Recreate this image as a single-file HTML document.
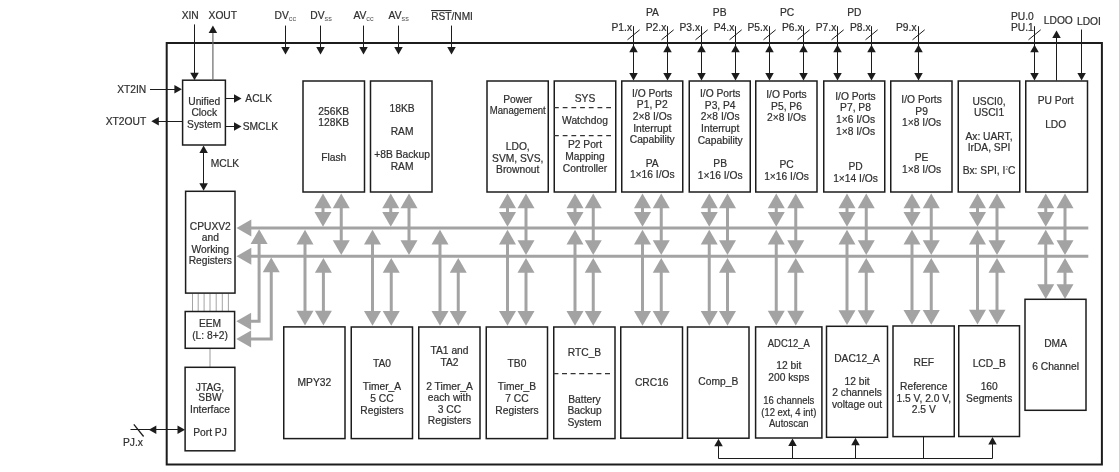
<!DOCTYPE html>
<html><head><meta charset="utf-8"><style>
html,body{margin:0;padding:0;background:#fff;}
body{width:1119px;height:472px;overflow:hidden;font-family:"Liberation Sans",sans-serif;}
svg{display:block;will-change:transform;}
</style></head><body>
<svg width="1119" height="472" viewBox="0 0 1119 472">
<g font-family="Liberation Sans, sans-serif" fill="#2b2b2b">
<style>text{stroke:#3a3a3a;stroke-width:0.22px;}</style>
<rect x="166.7" y="43" width="935.20" height="421.50" fill="#fff" stroke="#1c1c1c" stroke-width="2"/>
<line x1="250" y1="228.0" x2="1088.3" y2="228.0" stroke="#a3a3a3" stroke-width="3.1"/>
<line x1="250" y1="256.2" x2="1088.3" y2="256.2" stroke="#a3a3a3" stroke-width="3.1"/>
<polygon points="236.50,228.00 251.30,219.50 251.30,236.50" fill="#a3a3a3"/>
<polygon points="236.50,256.20 251.30,247.70 251.30,264.70" fill="#a3a3a3"/>
<line x1="323" y1="198.4" x2="323" y2="223.45" stroke="#a3a3a3" stroke-width="3"/>
<polygon points="323.00,193.40 314.50,208.20 331.50,208.20" fill="#a3a3a3"/>
<polygon points="323.00,226.75 314.50,211.95 331.50,211.95" fill="#a3a3a3"/>
<line x1="341.25" y1="198.4" x2="341.25" y2="251.64999999999998" stroke="#a3a3a3" stroke-width="3"/>
<polygon points="341.25,193.40 332.75,208.20 349.75,208.20" fill="#a3a3a3"/>
<polygon points="341.25,254.95 332.75,240.15 349.75,240.15" fill="#a3a3a3"/>
<line x1="390.75" y1="198.4" x2="390.75" y2="223.45" stroke="#a3a3a3" stroke-width="3"/>
<polygon points="390.75,193.40 382.25,208.20 399.25,208.20" fill="#a3a3a3"/>
<polygon points="390.75,226.75 382.25,211.95 399.25,211.95" fill="#a3a3a3"/>
<line x1="409" y1="198.4" x2="409" y2="251.64999999999998" stroke="#a3a3a3" stroke-width="3"/>
<polygon points="409.00,193.40 400.50,208.20 417.50,208.20" fill="#a3a3a3"/>
<polygon points="409.00,254.95 400.50,240.15 417.50,240.15" fill="#a3a3a3"/>
<line x1="507.5" y1="198.4" x2="507.5" y2="223.45" stroke="#a3a3a3" stroke-width="3"/>
<polygon points="507.50,193.40 499.00,208.20 516.00,208.20" fill="#a3a3a3"/>
<polygon points="507.50,226.75 499.00,211.95 516.00,211.95" fill="#a3a3a3"/>
<line x1="526" y1="198.4" x2="526" y2="251.64999999999998" stroke="#a3a3a3" stroke-width="3"/>
<polygon points="526.00,193.40 517.50,208.20 534.50,208.20" fill="#a3a3a3"/>
<polygon points="526.00,254.95 517.50,240.15 534.50,240.15" fill="#a3a3a3"/>
<line x1="575" y1="198.4" x2="575" y2="223.45" stroke="#a3a3a3" stroke-width="3"/>
<polygon points="575.00,193.40 566.50,208.20 583.50,208.20" fill="#a3a3a3"/>
<polygon points="575.00,226.75 566.50,211.95 583.50,211.95" fill="#a3a3a3"/>
<line x1="593.25" y1="198.4" x2="593.25" y2="251.64999999999998" stroke="#a3a3a3" stroke-width="3"/>
<polygon points="593.25,193.40 584.75,208.20 601.75,208.20" fill="#a3a3a3"/>
<polygon points="593.25,254.95 584.75,240.15 601.75,240.15" fill="#a3a3a3"/>
<line x1="642.5" y1="198.4" x2="642.5" y2="223.45" stroke="#a3a3a3" stroke-width="3"/>
<polygon points="642.50,193.40 634.00,208.20 651.00,208.20" fill="#a3a3a3"/>
<polygon points="642.50,226.75 634.00,211.95 651.00,211.95" fill="#a3a3a3"/>
<line x1="661.25" y1="198.4" x2="661.25" y2="251.64999999999998" stroke="#a3a3a3" stroke-width="3"/>
<polygon points="661.25,193.40 652.75,208.20 669.75,208.20" fill="#a3a3a3"/>
<polygon points="661.25,254.95 652.75,240.15 669.75,240.15" fill="#a3a3a3"/>
<line x1="709.25" y1="198.4" x2="709.25" y2="223.45" stroke="#a3a3a3" stroke-width="3"/>
<polygon points="709.25,193.40 700.75,208.20 717.75,208.20" fill="#a3a3a3"/>
<polygon points="709.25,226.75 700.75,211.95 717.75,211.95" fill="#a3a3a3"/>
<line x1="727.5" y1="198.4" x2="727.5" y2="251.64999999999998" stroke="#a3a3a3" stroke-width="3"/>
<polygon points="727.50,193.40 719.00,208.20 736.00,208.20" fill="#a3a3a3"/>
<polygon points="727.50,254.95 719.00,240.15 736.00,240.15" fill="#a3a3a3"/>
<line x1="776.25" y1="198.4" x2="776.25" y2="223.45" stroke="#a3a3a3" stroke-width="3"/>
<polygon points="776.25,193.40 767.75,208.20 784.75,208.20" fill="#a3a3a3"/>
<polygon points="776.25,226.75 767.75,211.95 784.75,211.95" fill="#a3a3a3"/>
<line x1="795.75" y1="198.4" x2="795.75" y2="251.64999999999998" stroke="#a3a3a3" stroke-width="3"/>
<polygon points="795.75,193.40 787.25,208.20 804.25,208.20" fill="#a3a3a3"/>
<polygon points="795.75,254.95 787.25,240.15 804.25,240.15" fill="#a3a3a3"/>
<line x1="847" y1="198.4" x2="847" y2="223.45" stroke="#a3a3a3" stroke-width="3"/>
<polygon points="847.00,193.40 838.50,208.20 855.50,208.20" fill="#a3a3a3"/>
<polygon points="847.00,226.75 838.50,211.95 855.50,211.95" fill="#a3a3a3"/>
<line x1="866.25" y1="198.4" x2="866.25" y2="251.64999999999998" stroke="#a3a3a3" stroke-width="3"/>
<polygon points="866.25,193.40 857.75,208.20 874.75,208.20" fill="#a3a3a3"/>
<polygon points="866.25,254.95 857.75,240.15 874.75,240.15" fill="#a3a3a3"/>
<line x1="912" y1="198.4" x2="912" y2="223.45" stroke="#a3a3a3" stroke-width="3"/>
<polygon points="912.00,193.40 903.50,208.20 920.50,208.20" fill="#a3a3a3"/>
<polygon points="912.00,226.75 903.50,211.95 920.50,211.95" fill="#a3a3a3"/>
<line x1="931.25" y1="198.4" x2="931.25" y2="251.64999999999998" stroke="#a3a3a3" stroke-width="3"/>
<polygon points="931.25,193.40 922.75,208.20 939.75,208.20" fill="#a3a3a3"/>
<polygon points="931.25,254.95 922.75,240.15 939.75,240.15" fill="#a3a3a3"/>
<line x1="977.5" y1="198.4" x2="977.5" y2="223.45" stroke="#a3a3a3" stroke-width="3"/>
<polygon points="977.50,193.40 969.00,208.20 986.00,208.20" fill="#a3a3a3"/>
<polygon points="977.50,226.75 969.00,211.95 986.00,211.95" fill="#a3a3a3"/>
<line x1="997" y1="198.4" x2="997" y2="251.64999999999998" stroke="#a3a3a3" stroke-width="3"/>
<polygon points="997.00,193.40 988.50,208.20 1005.50,208.20" fill="#a3a3a3"/>
<polygon points="997.00,254.95 988.50,240.15 1005.50,240.15" fill="#a3a3a3"/>
<line x1="1045.75" y1="198.4" x2="1045.75" y2="223.45" stroke="#a3a3a3" stroke-width="3"/>
<polygon points="1045.75,193.40 1037.25,208.20 1054.25,208.20" fill="#a3a3a3"/>
<polygon points="1045.75,226.75 1037.25,211.95 1054.25,211.95" fill="#a3a3a3"/>
<line x1="1065" y1="198.4" x2="1065" y2="251.64999999999998" stroke="#a3a3a3" stroke-width="3"/>
<polygon points="1065.00,193.40 1056.50,208.20 1073.50,208.20" fill="#a3a3a3"/>
<polygon points="1065.00,254.95 1056.50,240.15 1073.50,240.15" fill="#a3a3a3"/>
<line x1="305" y1="234.55" x2="305" y2="320.59999999999997" stroke="#a3a3a3" stroke-width="3"/>
<polygon points="305.00,229.75 296.50,244.55 313.50,244.55" fill="#a3a3a3"/>
<polygon points="305.00,325.60 296.50,310.80 313.50,310.80" fill="#a3a3a3"/>
<line x1="323.4" y1="262.75" x2="323.4" y2="320.59999999999997" stroke="#a3a3a3" stroke-width="3"/>
<polygon points="323.40,257.95 314.90,272.75 331.90,272.75" fill="#a3a3a3"/>
<polygon points="323.40,325.60 314.90,310.80 331.90,310.80" fill="#a3a3a3"/>
<line x1="372.5" y1="234.55" x2="372.5" y2="320.7" stroke="#a3a3a3" stroke-width="3"/>
<polygon points="372.50,229.75 364.00,244.55 381.00,244.55" fill="#a3a3a3"/>
<polygon points="372.50,325.70 364.00,310.90 381.00,310.90" fill="#a3a3a3"/>
<line x1="391.25" y1="262.75" x2="391.25" y2="320.7" stroke="#a3a3a3" stroke-width="3"/>
<polygon points="391.25,257.95 382.75,272.75 399.75,272.75" fill="#a3a3a3"/>
<polygon points="391.25,325.70 382.75,310.90 399.75,310.90" fill="#a3a3a3"/>
<line x1="440" y1="234.55" x2="440" y2="320.7" stroke="#a3a3a3" stroke-width="3"/>
<polygon points="440.00,229.75 431.50,244.55 448.50,244.55" fill="#a3a3a3"/>
<polygon points="440.00,325.70 431.50,310.90 448.50,310.90" fill="#a3a3a3"/>
<line x1="458.25" y1="262.75" x2="458.25" y2="320.7" stroke="#a3a3a3" stroke-width="3"/>
<polygon points="458.25,257.95 449.75,272.75 466.75,272.75" fill="#a3a3a3"/>
<polygon points="458.25,325.70 449.75,310.90 466.75,310.90" fill="#a3a3a3"/>
<line x1="507.5" y1="234.55" x2="507.5" y2="320.7" stroke="#a3a3a3" stroke-width="3"/>
<polygon points="507.50,229.75 499.00,244.55 516.00,244.55" fill="#a3a3a3"/>
<polygon points="507.50,325.70 499.00,310.90 516.00,310.90" fill="#a3a3a3"/>
<line x1="526" y1="262.75" x2="526" y2="320.7" stroke="#a3a3a3" stroke-width="3"/>
<polygon points="526.00,257.95 517.50,272.75 534.50,272.75" fill="#a3a3a3"/>
<polygon points="526.00,325.70 517.50,310.90 534.50,310.90" fill="#a3a3a3"/>
<line x1="575" y1="234.55" x2="575" y2="320.7" stroke="#a3a3a3" stroke-width="3"/>
<polygon points="575.00,229.75 566.50,244.55 583.50,244.55" fill="#a3a3a3"/>
<polygon points="575.00,325.70 566.50,310.90 583.50,310.90" fill="#a3a3a3"/>
<line x1="593.25" y1="262.75" x2="593.25" y2="320.7" stroke="#a3a3a3" stroke-width="3"/>
<polygon points="593.25,257.95 584.75,272.75 601.75,272.75" fill="#a3a3a3"/>
<polygon points="593.25,325.70 584.75,310.90 601.75,310.90" fill="#a3a3a3"/>
<line x1="642.5" y1="234.55" x2="642.5" y2="320.7" stroke="#a3a3a3" stroke-width="3"/>
<polygon points="642.50,229.75 634.00,244.55 651.00,244.55" fill="#a3a3a3"/>
<polygon points="642.50,325.70 634.00,310.90 651.00,310.90" fill="#a3a3a3"/>
<line x1="661.25" y1="262.75" x2="661.25" y2="320.7" stroke="#a3a3a3" stroke-width="3"/>
<polygon points="661.25,257.95 652.75,272.75 669.75,272.75" fill="#a3a3a3"/>
<polygon points="661.25,325.70 652.75,310.90 669.75,310.90" fill="#a3a3a3"/>
<line x1="709.25" y1="234.55" x2="709.25" y2="320.7" stroke="#a3a3a3" stroke-width="3"/>
<polygon points="709.25,229.75 700.75,244.55 717.75,244.55" fill="#a3a3a3"/>
<polygon points="709.25,325.70 700.75,310.90 717.75,310.90" fill="#a3a3a3"/>
<line x1="727.5" y1="262.75" x2="727.5" y2="320.7" stroke="#a3a3a3" stroke-width="3"/>
<polygon points="727.50,257.95 719.00,272.75 736.00,272.75" fill="#a3a3a3"/>
<polygon points="727.50,325.70 719.00,310.90 736.00,310.90" fill="#a3a3a3"/>
<line x1="776.25" y1="234.55" x2="776.25" y2="320.59999999999997" stroke="#a3a3a3" stroke-width="3"/>
<polygon points="776.25,229.75 767.75,244.55 784.75,244.55" fill="#a3a3a3"/>
<polygon points="776.25,325.60 767.75,310.80 784.75,310.80" fill="#a3a3a3"/>
<line x1="795.75" y1="262.75" x2="795.75" y2="320.59999999999997" stroke="#a3a3a3" stroke-width="3"/>
<polygon points="795.75,257.95 787.25,272.75 804.25,272.75" fill="#a3a3a3"/>
<polygon points="795.75,325.60 787.25,310.80 804.25,310.80" fill="#a3a3a3"/>
<line x1="847" y1="234.55" x2="847" y2="320.0" stroke="#a3a3a3" stroke-width="3"/>
<polygon points="847.00,229.75 838.50,244.55 855.50,244.55" fill="#a3a3a3"/>
<polygon points="847.00,325.00 838.50,310.20 855.50,310.20" fill="#a3a3a3"/>
<line x1="866.25" y1="262.75" x2="866.25" y2="320.0" stroke="#a3a3a3" stroke-width="3"/>
<polygon points="866.25,257.95 857.75,272.75 874.75,272.75" fill="#a3a3a3"/>
<polygon points="866.25,325.00 857.75,310.20 874.75,310.20" fill="#a3a3a3"/>
<line x1="912" y1="234.55" x2="912" y2="319.7" stroke="#a3a3a3" stroke-width="3"/>
<polygon points="912.00,229.75 903.50,244.55 920.50,244.55" fill="#a3a3a3"/>
<polygon points="912.00,324.70 903.50,309.90 920.50,309.90" fill="#a3a3a3"/>
<line x1="931.25" y1="262.75" x2="931.25" y2="319.7" stroke="#a3a3a3" stroke-width="3"/>
<polygon points="931.25,257.95 922.75,272.75 939.75,272.75" fill="#a3a3a3"/>
<polygon points="931.25,324.70 922.75,309.90 939.75,309.90" fill="#a3a3a3"/>
<line x1="977.5" y1="234.55" x2="977.5" y2="319.5" stroke="#a3a3a3" stroke-width="3"/>
<polygon points="977.50,229.75 969.00,244.55 986.00,244.55" fill="#a3a3a3"/>
<polygon points="977.50,324.50 969.00,309.70 986.00,309.70" fill="#a3a3a3"/>
<line x1="997" y1="262.75" x2="997" y2="319.5" stroke="#a3a3a3" stroke-width="3"/>
<polygon points="997.00,257.95 988.50,272.75 1005.50,272.75" fill="#a3a3a3"/>
<polygon points="997.00,324.50 988.50,309.70 1005.50,309.70" fill="#a3a3a3"/>
<line x1="1045.75" y1="234.55" x2="1045.75" y2="294.0" stroke="#a3a3a3" stroke-width="3"/>
<polygon points="1045.75,229.75 1037.25,244.55 1054.25,244.55" fill="#a3a3a3"/>
<polygon points="1045.75,299.00 1037.25,284.20 1054.25,284.20" fill="#a3a3a3"/>
<line x1="1065" y1="262.75" x2="1065" y2="294.0" stroke="#a3a3a3" stroke-width="3"/>
<polygon points="1065.00,257.95 1056.50,272.75 1073.50,272.75" fill="#a3a3a3"/>
<polygon points="1065.00,299.00 1056.50,284.20 1073.50,284.20" fill="#a3a3a3"/>
<polyline points="259.1,234.55 259.1,321.2 245,321.2" fill="none" stroke="#a3a3a3" stroke-width="3"/>
<polygon points="259.10,229.25 250.60,244.05 267.60,244.05" fill="#a3a3a3"/>
<polygon points="236.30,321.20 251.10,312.70 251.10,329.70" fill="#a3a3a3"/>
<polyline points="271.25,262.75 271.25,339.1 245,339.1" fill="none" stroke="#a3a3a3" stroke-width="3"/>
<polygon points="271.25,257.45 262.75,272.25 279.75,272.25" fill="#a3a3a3"/>
<polygon points="236.30,339.10 251.10,330.60 251.10,347.60" fill="#a3a3a3"/>
<line x1="192.5" y1="293.5" x2="192.5" y2="311" stroke="#9a9a9a" stroke-width="0.9"/>
<line x1="198.2" y1="293.5" x2="198.2" y2="311" stroke="#9a9a9a" stroke-width="0.9"/>
<line x1="204.1" y1="293.5" x2="204.1" y2="311" stroke="#9a9a9a" stroke-width="0.9"/>
<line x1="210" y1="293.5" x2="210" y2="311" stroke="#9a9a9a" stroke-width="0.9"/>
<line x1="216.2" y1="293.5" x2="216.2" y2="311" stroke="#9a9a9a" stroke-width="0.9"/>
<line x1="222.3" y1="293.5" x2="222.3" y2="311" stroke="#9a9a9a" stroke-width="0.9"/>
<line x1="228.4" y1="293.5" x2="228.4" y2="311" stroke="#9a9a9a" stroke-width="0.9"/>
<line x1="210" y1="348.5" x2="210" y2="367" stroke="#9a9a9a" stroke-width="1"/>
<rect x="182.6" y="80.2" width="42.80" height="64.80" fill="#fff" stroke="#1c1c1c" stroke-width="1.5"/>
<rect x="185.6" y="191.3" width="49.40" height="101.80" fill="#fff" stroke="#1c1c1c" stroke-width="1.5"/>
<rect x="185.2" y="311.5" width="49.40" height="36.80" fill="#fff" stroke="#1c1c1c" stroke-width="1.5"/>
<rect x="185.1" y="367.3" width="49.80" height="83.50" fill="#fff" stroke="#1c1c1c" stroke-width="1.5"/>
<rect x="303" y="81" width="61.50" height="111.00" fill="#fff" stroke="#1c1c1c" stroke-width="1.5"/>
<rect x="370.5" y="81" width="61.50" height="111.00" fill="#fff" stroke="#1c1c1c" stroke-width="1.5"/>
<rect x="487" y="81" width="61.25" height="111.00" fill="#fff" stroke="#1c1c1c" stroke-width="1.5"/>
<rect x="554.25" y="81" width="61.50" height="111.00" fill="#fff" stroke="#1c1c1c" stroke-width="1.5"/>
<rect x="621.75" y="81" width="61.00" height="111.00" fill="#fff" stroke="#1c1c1c" stroke-width="1.5"/>
<rect x="689.25" y="81" width="61.00" height="111.00" fill="#fff" stroke="#1c1c1c" stroke-width="1.5"/>
<rect x="755.75" y="81" width="61.25" height="111.00" fill="#fff" stroke="#1c1c1c" stroke-width="1.5"/>
<rect x="823.75" y="81" width="61.00" height="111.00" fill="#fff" stroke="#1c1c1c" stroke-width="1.5"/>
<rect x="890.75" y="81" width="61.25" height="111.00" fill="#fff" stroke="#1c1c1c" stroke-width="1.5"/>
<rect x="958.25" y="81" width="61.50" height="111.00" fill="#fff" stroke="#1c1c1c" stroke-width="1.5"/>
<rect x="1025.75" y="81" width="61.75" height="111.00" fill="#fff" stroke="#1c1c1c" stroke-width="1.5"/>
<rect x="283.75" y="326.9" width="61.25" height="111.70" fill="#fff" stroke="#1c1c1c" stroke-width="1.5"/>
<rect x="351.25" y="327" width="61.25" height="111.60" fill="#fff" stroke="#1c1c1c" stroke-width="1.5"/>
<rect x="418.75" y="327" width="61.25" height="111.60" fill="#fff" stroke="#1c1c1c" stroke-width="1.5"/>
<rect x="486.25" y="327" width="61.25" height="111.60" fill="#fff" stroke="#1c1c1c" stroke-width="1.5"/>
<rect x="553.75" y="327" width="61.25" height="111.60" fill="#fff" stroke="#1c1c1c" stroke-width="1.5"/>
<rect x="620.75" y="327" width="61.75" height="111.20" fill="#fff" stroke="#1c1c1c" stroke-width="1.5"/>
<rect x="687.5" y="327" width="61.50" height="111.20" fill="#fff" stroke="#1c1c1c" stroke-width="1.5"/>
<rect x="755.6" y="326.9" width="66.30" height="111.10" fill="#fff" stroke="#1c1c1c" stroke-width="1.5"/>
<rect x="826.5" y="326.3" width="61.00" height="111.00" fill="#fff" stroke="#1c1c1c" stroke-width="1.5"/>
<rect x="893" y="326" width="61.25" height="110.60" fill="#fff" stroke="#1c1c1c" stroke-width="1.5"/>
<rect x="958.75" y="325.8" width="60.75" height="110.70" fill="#fff" stroke="#1c1c1c" stroke-width="1.5"/>
<rect x="1025" y="299.3" width="61.00" height="111.00" fill="#fff" stroke="#1c1c1c" stroke-width="1.5"/>
<line x1="554" y1="107.6" x2="611.3" y2="107.6" stroke="#333" stroke-width="1.1" stroke-dasharray="4.8,3.9"/>
<line x1="554" y1="135.6" x2="611.3" y2="135.6" stroke="#333" stroke-width="1.1" stroke-dasharray="4.8,3.9"/>
<line x1="553.4" y1="373.6" x2="611.2" y2="373.6" stroke="#333" stroke-width="1.1" stroke-dasharray="5,3.6"/>
<text x="204.2" y="104.8" text-anchor="middle" font-size="10.25">Unified</text>
<text x="204.2" y="116.1" text-anchor="middle" font-size="10.25">Clock</text>
<text x="204.2" y="127.7" text-anchor="middle" font-size="10.25">System</text>
<text x="333.75" y="114.6" text-anchor="middle" font-size="10.25">256KB</text>
<text x="333.75" y="125.9" text-anchor="middle" font-size="10.25">128KB</text>
<text x="333.75" y="160.6" text-anchor="middle" font-size="10.25">Flash</text>
<text x="402.1" y="111.9" text-anchor="middle" font-size="10.25">18KB</text>
<text x="402.1" y="134.9" text-anchor="middle" font-size="10.25">RAM</text>
<text x="402.1" y="157.9" text-anchor="middle" font-size="10.25">+8B Backup</text>
<text x="402.1" y="169.9" text-anchor="middle" font-size="10.25">RAM</text>
<text x="517.75" y="102.6" text-anchor="middle" font-size="10.25">Power</text>
<text x="517.75" y="114.2" text-anchor="middle" font-size="10.25" textLength="56" lengthAdjust="spacingAndGlyphs">Management</text>
<text x="517.75" y="150.2" text-anchor="middle" font-size="10.25">LDO,</text>
<text x="517.75" y="161.6" text-anchor="middle" font-size="10.25">SVM, SVS,</text>
<text x="517.75" y="173.1" text-anchor="middle" font-size="10.25">Brownout</text>
<text x="585" y="101.6" text-anchor="middle" font-size="10.25">SYS</text>
<text x="585" y="124.2" text-anchor="middle" font-size="10.25">Watchdog</text>
<text x="585" y="148.2" text-anchor="middle" font-size="10.25">P2 Port</text>
<text x="585" y="159.6" text-anchor="middle" font-size="10.25">Mapping</text>
<text x="585" y="171.6" text-anchor="middle" font-size="10.25">Controller</text>
<text x="652.25" y="96.8" text-anchor="middle" font-size="10.25">I/O Ports</text>
<text x="652.25" y="108.3" text-anchor="middle" font-size="10.25">P1, P2</text>
<text x="652.25" y="120.1" text-anchor="middle" font-size="10.25">2×8 I/Os</text>
<text x="652.25" y="131.6" text-anchor="middle" font-size="10.25">Interrupt</text>
<text x="652.25" y="143.1" text-anchor="middle" font-size="10.25">Capability</text>
<text x="652.25" y="166.6" text-anchor="middle" font-size="10.25">PA</text>
<text x="652.25" y="178.2" text-anchor="middle" font-size="10.25">1×16 I/Os</text>
<text x="720.2" y="97.2" text-anchor="middle" font-size="10.25">I/O Ports</text>
<text x="720.2" y="108.8" text-anchor="middle" font-size="10.25">P3, P4</text>
<text x="720.2" y="120.4" text-anchor="middle" font-size="10.25">2×8 I/Os</text>
<text x="720.2" y="132.0" text-anchor="middle" font-size="10.25">Interrupt</text>
<text x="720.2" y="143.6" text-anchor="middle" font-size="10.25">Capability</text>
<text x="720.2" y="167.1" text-anchor="middle" font-size="10.25">PB</text>
<text x="720.2" y="178.6" text-anchor="middle" font-size="10.25">1×16 I/Os</text>
<text x="786.5" y="98.2" text-anchor="middle" font-size="10.25">I/O Ports</text>
<text x="786.5" y="109.8" text-anchor="middle" font-size="10.25">P5, P6</text>
<text x="786.5" y="121.3" text-anchor="middle" font-size="10.25">2×8 I/Os</text>
<text x="786.5" y="168.2" text-anchor="middle" font-size="10.25">PC</text>
<text x="786.5" y="179.8" text-anchor="middle" font-size="10.25">1×16 I/Os</text>
<text x="855.5" y="99.9" text-anchor="middle" font-size="10.25">I/O Ports</text>
<text x="855.5" y="111.4" text-anchor="middle" font-size="10.25">P7, P8</text>
<text x="855.5" y="123.0" text-anchor="middle" font-size="10.25">1×6 I/Os</text>
<text x="855.5" y="134.6" text-anchor="middle" font-size="10.25">1×8 I/Os</text>
<text x="855.5" y="169.6" text-anchor="middle" font-size="10.25">PD</text>
<text x="855.5" y="181.6" text-anchor="middle" font-size="10.25">1×14 I/Os</text>
<text x="921.6" y="103.2" text-anchor="middle" font-size="10.25">I/O Ports</text>
<text x="921.6" y="114.8" text-anchor="middle" font-size="10.25">P9</text>
<text x="921.6" y="126.4" text-anchor="middle" font-size="10.25">1×8 I/Os</text>
<text x="921.6" y="160.6" text-anchor="middle" font-size="10.25">PE</text>
<text x="921.6" y="173.2" text-anchor="middle" font-size="10.25">1×8 I/Os</text>
<text x="989" y="104.7" text-anchor="middle" font-size="10.25">USCI0,</text>
<text x="989" y="116.0" text-anchor="middle" font-size="10.25">USCI1</text>
<text x="989" y="139.8" text-anchor="middle" font-size="10.25">Ax: UART,</text>
<text x="989" y="151.4" text-anchor="middle" font-size="10.25">IrDA, SPI</text>
<text x="989" y="174.2" text-anchor="middle" font-size="10.25">Bx: SPI, I<tspan font-size="4.6" dy="-4.2" fill="#666" stroke="none">2</tspan><tspan dy="4.2">C</tspan></text>
<text x="1055.7" y="104.0" text-anchor="middle" font-size="10.25">PU Port</text>
<text x="1055.7" y="127.6" text-anchor="middle" font-size="10.25">LDO</text>
<text x="210.3" y="230" text-anchor="middle" font-size="10.25">CPUXV2</text>
<text x="210.3" y="241.2" text-anchor="middle" font-size="10.25">and</text>
<text x="210.3" y="252.7" text-anchor="middle" font-size="10.25">Working</text>
<text x="210.3" y="264.2" text-anchor="middle" font-size="10.25">Registers</text>
<text x="210" y="327.1" text-anchor="middle" font-size="10.25">EEM</text>
<text x="210" y="338.8" text-anchor="middle" font-size="10.25">(L: 8+2)</text>
<text x="210" y="390.5" text-anchor="middle" font-size="10.25">JTAG,</text>
<text x="210" y="401.1" text-anchor="middle" font-size="10.25">SBW</text>
<text x="210" y="412.7" text-anchor="middle" font-size="10.25">Interface</text>
<text x="210" y="436" text-anchor="middle" font-size="10.25">Port PJ</text>
<text x="314.4" y="385.6" text-anchor="middle" font-size="10.25">MPY32</text>
<text x="382" y="367.1" text-anchor="middle" font-size="10.25">TA0</text>
<text x="382" y="390.1" text-anchor="middle" font-size="10.25">Timer_A</text>
<text x="382" y="401.9" text-anchor="middle" font-size="10.25">5 CC</text>
<text x="382" y="413.5" text-anchor="middle" font-size="10.25">Registers</text>
<text x="449.5" y="353.6" text-anchor="middle" font-size="10.25">TA1 and</text>
<text x="449.5" y="366.2" text-anchor="middle" font-size="10.25">TA2</text>
<text x="449.5" y="389.6" text-anchor="middle" font-size="10.25">2 Timer_A</text>
<text x="449.5" y="401.2" text-anchor="middle" font-size="10.25">each with</text>
<text x="449.5" y="412.8" text-anchor="middle" font-size="10.25">3 CC</text>
<text x="449.5" y="424.2" text-anchor="middle" font-size="10.25">Registers</text>
<text x="517" y="367.1" text-anchor="middle" font-size="10.25">TB0</text>
<text x="517" y="390.1" text-anchor="middle" font-size="10.25">Timer_B</text>
<text x="517" y="401.9" text-anchor="middle" font-size="10.25">7 CC</text>
<text x="517" y="413.5" text-anchor="middle" font-size="10.25">Registers</text>
<text x="584.5" y="356.2" text-anchor="middle" font-size="10.25">RTC_B</text>
<text x="584.5" y="402.8" text-anchor="middle" font-size="10.25">Battery</text>
<text x="584.5" y="414.4" text-anchor="middle" font-size="10.25">Backup</text>
<text x="584.5" y="426.0" text-anchor="middle" font-size="10.25">System</text>
<text x="651.75" y="385.8" text-anchor="middle" font-size="10.25">CRC16</text>
<text x="718.3" y="384.8" text-anchor="middle" font-size="10.25">Comp_B</text>
<text x="788.8" y="346.6" text-anchor="middle" font-size="10.25" textLength="42" lengthAdjust="spacingAndGlyphs">ADC12_A</text>
<text x="788.8" y="369.0" text-anchor="middle" font-size="10.25">12 bit</text>
<text x="788.8" y="380.6" text-anchor="middle" font-size="10.25">200 ksps</text>
<text x="788.8" y="404.2" text-anchor="middle" font-size="10.25" textLength="51" lengthAdjust="spacingAndGlyphs">16 channels</text>
<text x="788.8" y="415.8" text-anchor="middle" font-size="10.25" textLength="55" lengthAdjust="spacingAndGlyphs">(12 ext, 4 int)</text>
<text x="788.8" y="427.2" text-anchor="middle" font-size="10.25" textLength="39.5" lengthAdjust="spacingAndGlyphs">Autoscan</text>
<text x="857" y="362.0" text-anchor="middle" font-size="10.25">DAC12_A</text>
<text x="857" y="384.8" text-anchor="middle" font-size="10.25">12 bit</text>
<text x="857" y="396.4" text-anchor="middle" font-size="10.25">2 channels</text>
<text x="857" y="408.0" text-anchor="middle" font-size="10.25">voltage out</text>
<text x="923.75" y="365.8" text-anchor="middle" font-size="10.25">REF</text>
<text x="923.75" y="390.2" text-anchor="middle" font-size="10.25">Reference</text>
<text x="923.75" y="401.8" text-anchor="middle" font-size="10.25">1.5 V, 2.0 V,</text>
<text x="923.75" y="413.0" text-anchor="middle" font-size="10.25">2.5 V</text>
<text x="989.2" y="367.2" text-anchor="middle" font-size="10.25">LCD_B</text>
<text x="989.2" y="390.2" text-anchor="middle" font-size="10.25">160</text>
<text x="989.2" y="401.8" text-anchor="middle" font-size="10.25">Segments</text>
<text x="1055.6" y="346.8" text-anchor="middle" font-size="10.25">DMA</text>
<text x="1055.6" y="370.2" text-anchor="middle" font-size="10.25">6 Channel</text>
<text x="190.2" y="19.1" text-anchor="middle" font-size="10.25">XIN</text>
<text x="222.8" y="19.1" text-anchor="middle" font-size="10.25">XOUT</text>
<line x1="194.5" y1="24.4" x2="194.5" y2="74" stroke="#1c1c1c" stroke-width="1"/>
<polygon points="194.50,80.20 190.25,72.70 198.75,72.70" fill="#1c1c1c"/>
<line x1="212.9" y1="31" x2="212.9" y2="80.2" stroke="#6a6a6a" stroke-width="1.2"/>
<polygon points="212.90,25.60 208.65,33.10 217.15,33.10" fill="#1c1c1c"/>
<text x="274.6" y="19.2" font-size="10.25">DV<tspan font-size="7.3" dy="1.5" fill="#555" stroke="none">cc</tspan></text>
<text x="310.3" y="19.2" font-size="10.25">DV<tspan font-size="7.3" dy="1.5" fill="#555" stroke="none">ss</tspan></text>
<text x="353.4" y="19.2" font-size="10.25">AV<tspan font-size="7.3" dy="1.5" fill="#555" stroke="none">cc</tspan></text>
<text x="388.6" y="19.2" font-size="10.25">AV<tspan font-size="7.3" dy="1.5" fill="#555" stroke="none">ss</tspan></text>
<text x="431.3" y="19.6" text-anchor="start" font-size="10.25" textLength="41.6" lengthAdjust="spacingAndGlyphs">RST/NMI</text>
<line x1="431.1" y1="10.6" x2="451.6" y2="10.6" stroke="#1c1c1c" stroke-width="1"/>
<line x1="285.5" y1="25.6" x2="285.5" y2="49" stroke="#1c1c1c" stroke-width="1"/>
<polygon points="285.50,54.40 281.25,46.90 289.75,46.90" fill="#1c1c1c"/>
<line x1="320.5" y1="25.6" x2="320.5" y2="49" stroke="#1c1c1c" stroke-width="1"/>
<polygon points="320.50,54.40 316.25,46.90 324.75,46.90" fill="#1c1c1c"/>
<line x1="363.5" y1="25.6" x2="363.5" y2="49" stroke="#1c1c1c" stroke-width="1"/>
<polygon points="363.50,54.40 359.25,46.90 367.75,46.90" fill="#1c1c1c"/>
<line x1="398.5" y1="25.6" x2="398.5" y2="49" stroke="#1c1c1c" stroke-width="1"/>
<polygon points="398.50,54.40 394.25,46.90 402.75,46.90" fill="#1c1c1c"/>
<line x1="451.5" y1="25.6" x2="451.5" y2="49" stroke="#1c1c1c" stroke-width="1"/>
<polygon points="451.50,54.40 447.25,46.90 455.75,46.90" fill="#1c1c1c"/>
<text x="652.4" y="16" text-anchor="middle" font-size="10.25">PA</text>
<text x="719.7" y="16" text-anchor="middle" font-size="10.25">PB</text>
<text x="787" y="16" text-anchor="middle" font-size="10.25">PC</text>
<text x="854.4" y="16" text-anchor="middle" font-size="10.25">PD</text>
<text x="611.5" y="31" text-anchor="start" font-size="10.25">P1.x</text>
<text x="645.75" y="31" text-anchor="start" font-size="10.25">P2.x</text>
<text x="679.5" y="31" text-anchor="start" font-size="10.25">P3.x</text>
<text x="713.75" y="31" text-anchor="start" font-size="10.25">P4.x</text>
<text x="747.5" y="31" text-anchor="start" font-size="10.25">P5.x</text>
<text x="782" y="31" text-anchor="start" font-size="10.25">P6.x</text>
<text x="815.75" y="31" text-anchor="start" font-size="10.25">P7.x</text>
<text x="850" y="31" text-anchor="start" font-size="10.25">P8.x</text>
<text x="896" y="31" text-anchor="start" font-size="10.25">P9.x</text>
<line x1="633.5" y1="26.2" x2="633.5" y2="75" stroke="#1c1c1c" stroke-width="1"/>
<polygon points="633.50,44.80 629.25,52.30 637.75,52.30" fill="#1c1c1c"/>
<polygon points="633.50,80.60 629.25,73.10 637.75,73.10" fill="#1c1c1c"/>
<line x1="627.5" y1="39.8" x2="639.7" y2="29.8" stroke="#1c1c1c" stroke-width="1"/>
<line x1="667.5" y1="26.2" x2="667.5" y2="75" stroke="#1c1c1c" stroke-width="1"/>
<polygon points="667.50,44.80 663.25,52.30 671.75,52.30" fill="#1c1c1c"/>
<polygon points="667.50,80.60 663.25,73.10 671.75,73.10" fill="#1c1c1c"/>
<line x1="661.5" y1="39.8" x2="673.7" y2="29.8" stroke="#1c1c1c" stroke-width="1"/>
<line x1="701.5" y1="26.2" x2="701.5" y2="75" stroke="#1c1c1c" stroke-width="1"/>
<polygon points="701.50,44.80 697.25,52.30 705.75,52.30" fill="#1c1c1c"/>
<polygon points="701.50,80.60 697.25,73.10 705.75,73.10" fill="#1c1c1c"/>
<line x1="695.5" y1="39.8" x2="707.7" y2="29.8" stroke="#1c1c1c" stroke-width="1"/>
<line x1="735.5" y1="26.2" x2="735.5" y2="75" stroke="#1c1c1c" stroke-width="1"/>
<polygon points="735.50,44.80 731.25,52.30 739.75,52.30" fill="#1c1c1c"/>
<polygon points="735.50,80.60 731.25,73.10 739.75,73.10" fill="#1c1c1c"/>
<line x1="729.5" y1="39.8" x2="741.7" y2="29.8" stroke="#1c1c1c" stroke-width="1"/>
<line x1="769.5" y1="26.2" x2="769.5" y2="75" stroke="#1c1c1c" stroke-width="1"/>
<polygon points="769.50,44.80 765.25,52.30 773.75,52.30" fill="#1c1c1c"/>
<polygon points="769.50,80.60 765.25,73.10 773.75,73.10" fill="#1c1c1c"/>
<line x1="763.5" y1="39.8" x2="775.7" y2="29.8" stroke="#1c1c1c" stroke-width="1"/>
<line x1="803.5" y1="26.2" x2="803.5" y2="75" stroke="#1c1c1c" stroke-width="1"/>
<polygon points="803.50,44.80 799.25,52.30 807.75,52.30" fill="#1c1c1c"/>
<polygon points="803.50,80.60 799.25,73.10 807.75,73.10" fill="#1c1c1c"/>
<line x1="797.5" y1="39.8" x2="809.7" y2="29.8" stroke="#1c1c1c" stroke-width="1"/>
<line x1="837.5" y1="26.2" x2="837.5" y2="75" stroke="#1c1c1c" stroke-width="1"/>
<polygon points="837.50,44.80 833.25,52.30 841.75,52.30" fill="#1c1c1c"/>
<polygon points="837.50,80.60 833.25,73.10 841.75,73.10" fill="#1c1c1c"/>
<line x1="831.5" y1="39.8" x2="843.7" y2="29.8" stroke="#1c1c1c" stroke-width="1"/>
<line x1="871.5" y1="26.2" x2="871.5" y2="75" stroke="#1c1c1c" stroke-width="1"/>
<polygon points="871.50,44.80 867.25,52.30 875.75,52.30" fill="#1c1c1c"/>
<polygon points="871.50,80.60 867.25,73.10 875.75,73.10" fill="#1c1c1c"/>
<line x1="865.5" y1="39.8" x2="877.7" y2="29.8" stroke="#1c1c1c" stroke-width="1"/>
<line x1="918.5" y1="26.2" x2="918.5" y2="75" stroke="#1c1c1c" stroke-width="1"/>
<polygon points="918.50,44.80 914.25,52.30 922.75,52.30" fill="#1c1c1c"/>
<polygon points="918.50,80.60 914.25,73.10 922.75,73.10" fill="#1c1c1c"/>
<line x1="912.5" y1="39.8" x2="924.7" y2="29.8" stroke="#1c1c1c" stroke-width="1"/>
<line x1="1034.5" y1="26.2" x2="1034.5" y2="75" stroke="#1c1c1c" stroke-width="1"/>
<polygon points="1034.50,44.80 1030.25,52.30 1038.75,52.30" fill="#1c1c1c"/>
<polygon points="1034.50,80.60 1030.25,73.10 1038.75,73.10" fill="#1c1c1c"/>
<line x1="1028.5" y1="39.8" x2="1040.7" y2="29.8" stroke="#1c1c1c" stroke-width="1"/>
<text x="1011" y="19.5" text-anchor="start" font-size="10.25">PU.0</text>
<text x="1011" y="31" text-anchor="start" font-size="10.25">PU.1</text>
<text x="1043.8" y="23.9" text-anchor="start" font-size="10.25">LDOO</text>
<text x="1077" y="25.3" text-anchor="start" font-size="10.25">LDOI</text>
<line x1="1056.5" y1="36" x2="1056.5" y2="80.5" stroke="#1c1c1c" stroke-width="1"/>
<polygon points="1056.50,30.40 1052.25,37.90 1060.75,37.90" fill="#1c1c1c"/>
<line x1="1081.5" y1="29.5" x2="1081.5" y2="75" stroke="#1c1c1c" stroke-width="1"/>
<polygon points="1081.60,80.60 1077.35,73.10 1085.85,73.10" fill="#1c1c1c"/>
<text x="146.2" y="92.8" text-anchor="end" font-size="10.25">XT2IN</text>
<text x="146.2" y="124.8" text-anchor="end" font-size="10.25">XT2OUT</text>
<line x1="150" y1="89.5" x2="176" y2="89.5" stroke="#1c1c1c" stroke-width="1"/>
<polygon points="181.90,89.30 174.40,85.05 174.40,93.55" fill="#1c1c1c"/>
<line x1="157" y1="121.5" x2="182.5" y2="121.5" stroke="#1c1c1c" stroke-width="1"/>
<polygon points="151.30,121.30 158.80,117.05 158.80,125.55" fill="#1c1c1c"/>
<line x1="225.4" y1="98.5" x2="236" y2="98.5" stroke="#1c1c1c" stroke-width="1"/>
<polygon points="241.50,98.50 234.00,94.25 234.00,102.75" fill="#1c1c1c"/>
<line x1="225.4" y1="126.5" x2="236" y2="126.5" stroke="#1c1c1c" stroke-width="1"/>
<polygon points="241.50,126.40 234.00,122.15 234.00,130.65" fill="#1c1c1c"/>
<text x="245.3" y="102" text-anchor="start" font-size="10.25">ACLK</text>
<text x="242.7" y="129.8" text-anchor="start" font-size="10.25">SMCLK</text>
<line x1="203.5" y1="150" x2="203.5" y2="186" stroke="#1c1c1c" stroke-width="1"/>
<polygon points="203.60,145.60 199.35,153.10 207.85,153.10" fill="#1c1c1c"/>
<polygon points="203.60,190.80 199.35,183.30 207.85,183.30" fill="#1c1c1c"/>
<text x="210.7" y="167" text-anchor="start" font-size="10.25">MCLK</text>
<line x1="130.5" y1="429.5" x2="180" y2="429.5" stroke="#1c1c1c" stroke-width="1"/>
<polygon points="148.80,429.80 156.30,425.55 156.30,434.05" fill="#1c1c1c"/>
<polygon points="185.00,429.80 177.50,425.55 177.50,434.05" fill="#1c1c1c"/>
<line x1="133.8" y1="424.3" x2="143.6" y2="436.5" stroke="#1c1c1c" stroke-width="1.3"/>
<text x="123" y="446" text-anchor="start" font-size="10.25">PJ.x</text>
<line x1="718.5" y1="458.5" x2="992.5" y2="458.5" stroke="#1c1c1c" stroke-width="1"/>
<line x1="718.5" y1="458.5" x2="718.5" y2="444.6" stroke="#1c1c1c" stroke-width="1"/>
<polygon points="718.50,438.80 714.25,446.30 722.75,446.30" fill="#1c1c1c"/>
<line x1="792.5" y1="458.5" x2="792.5" y2="444.4" stroke="#1c1c1c" stroke-width="1"/>
<polygon points="792.50,438.60 788.25,446.10 796.75,446.10" fill="#1c1c1c"/>
<line x1="855.5" y1="458.5" x2="855.5" y2="443.6" stroke="#1c1c1c" stroke-width="1"/>
<polygon points="855.50,437.80 851.25,445.30 859.75,445.30" fill="#1c1c1c"/>
<line x1="992.5" y1="458.5" x2="992.5" y2="442.8" stroke="#1c1c1c" stroke-width="1"/>
<polygon points="992.50,437.00 988.25,444.50 996.75,444.50" fill="#1c1c1c"/>
<line x1="923.5" y1="436.6" x2="923.5" y2="458.5" stroke="#1c1c1c" stroke-width="1"/>
</g></svg>
</body></html>
